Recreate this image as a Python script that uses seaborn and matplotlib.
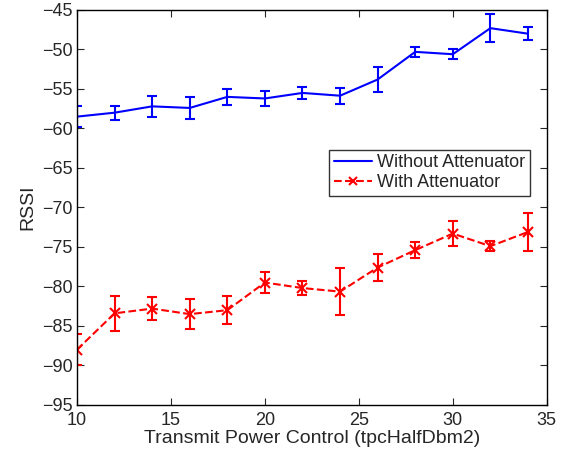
import matplotlib
matplotlib.use("Agg")
import matplotlib.pyplot as plt
import seaborn as sns

# ---------------------------------------------------
# Data
# ---------------------------------------------------
tpc = [10, 12, 14, 16, 18, 20, 22, 24, 26, 28, 30, 32, 34]

rssi_without = [-58.5, -58.0, -57.2, -57.4, -56.0, -56.2, -55.5, -55.85, -53.8, -50.3, -50.6, -47.3, -48.0]
err_without = [1.35, 0.9, 1.35, 1.35, 1.0, 0.95, 0.75, 1.0, 1.6, 0.6, 0.6, 1.75, 0.85]

rssi_with = [-88.0, -83.4, -82.8, -83.5, -83.0, -79.5, -80.2, -80.65, -77.6, -75.4, -73.3, -74.9, -73.1]
err_with = [2.0, 2.2, 1.5, 1.9, 1.8, 1.35, 0.85, 3.0, 1.65, 1.05, 1.55, 0.65, 2.4]

# ---------------------------------------------------
# Style
# ---------------------------------------------------
sns.set_style("ticks")
plt.rcParams["font.family"] = ["Liberation Sans", "DejaVu Sans"]
plt.rcParams["xtick.direction"] = "in"
plt.rcParams["ytick.direction"] = "in"

fig = plt.figure(figsize=(5.66, 4.54), dpi=100)
ax = fig.add_axes([0.136, 0.108, 0.830, 0.870])

# ---------------------------------------------------
# Plot
# ---------------------------------------------------
sns.lineplot(x=tpc, y=rssi_without, color="blue", linewidth=1.5,
             label="Without Attenuator", ax=ax)
sns.lineplot(x=tpc, y=rssi_with, color="red", linewidth=1.5, linestyle="--",
             marker="x", markersize=7, markeredgewidth=1.5, markeredgecolor="red",
             label="With Attenuator", ax=ax)
ax.errorbar(tpc, rssi_without, yerr=err_without, fmt="none", ecolor="blue",
            elinewidth=1.5, capsize=3.5, capthick=1.5)
ax.errorbar(tpc, rssi_with, yerr=err_with, fmt="none", ecolor="red",
            elinewidth=1.5, capsize=3.5, capthick=1.5)

ax.set_xlim(10, 35)
ax.set_ylim(-95, -45)
ax.set_xticks(range(10, 36, 5))
ax.set_yticks(range(-95, -44, 5))
ax.tick_params(labelsize=13, top=True, right=True, length=5, width=0.8)
ax.tick_params(axis="x", pad=5)
ax.tick_params(axis="y", pad=3)
for s in ax.spines.values():
    s.set_linewidth(1.0)
    s.set_color("black")

ax.set_xlabel("Transmit Power Control (tpcHalfDbm2)", fontsize=14, labelpad=1)
ax.set_ylabel("RSSI", fontsize=14, labelpad=4)

leg = ax.legend(loc="upper right", bbox_to_anchor=(0.964, 0.646), fontsize=13,
                frameon=True, fancybox=False, edgecolor="black",
                borderpad=0.25, handlelength=2.1, handletextpad=0.3,
                labelspacing=0.15, borderaxespad=0, markerscale=0.75)
leg.get_frame().set_linewidth(1.0)

fig.savefig("out.png", dpi=100)
